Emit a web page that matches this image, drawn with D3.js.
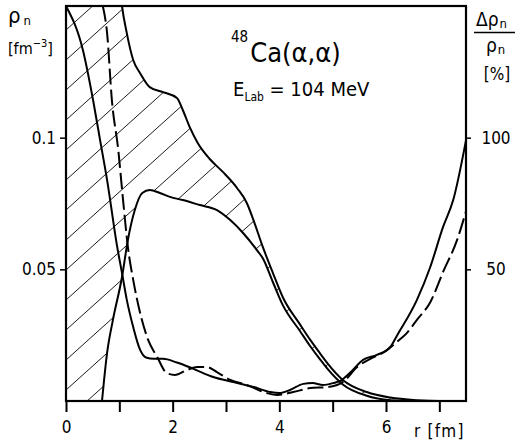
<!DOCTYPE html>
<html><head><meta charset="utf-8">
<script src="https://cdn.jsdelivr.net/npm/d3@7"></script>
<style>
html,body{margin:0;padding:0;background:#fff;}
svg text{font-family:"DejaVu Sans Condensed","DejaVu Sans",sans-serif;fill:#000;}
</style></head>
<body>
<svg id="c" width="519" height="441"></svg>
<script>
// ---- data (r in fm) ----
const xTicks = [0,1,2,3,4,5,6,7];
const xTickLabels = ["0","","2","","4","","6",""];
const yLeftTicks = [0.05, 0.1];
const yLeftLabels = ["0.05","0.1"];
const yRightTicks = [50, 100];
const yRightLabels = ["50","100"];

// upper bound of neutron density (fm^-3)
const upperR = [0.90,0.97,1.05,1.14,1.26,1.39,1.57,1.82,2.08,2.19,2.32,2.47,2.70,2.94,3.21,3.39,3.51,3.69,3.88,4.07,4.39,4.58,4.76,4.90,5.19,5.64,6.08,6.58,7.0,7.5];
const upperV = [0.19,0.166,0.150,0.1397,0.1295,0.1245,0.1192,0.1173,0.1151,0.1105,0.1040,0.0980,0.0918,0.0870,0.0808,0.0752,0.0690,0.0585,0.0486,0.0392,0.0290,0.0232,0.0182,0.0144,0.0080,0.0034,0.0013,0.0003,0.0,0.0];
// lower bound of neutron density
const lowerR = [0.675,0.77,0.88,1.05,1.16,1.29,1.43,1.57,1.76,1.95,2.19,2.51,2.83,3.08,3.32,3.58,3.69,3.88,4.07,4.39,4.58,4.76,4.90,5.19,5.64,6.08,6.4,7.5];
const lowerV = [0.0,0.0182,0.0308,0.0471,0.0611,0.0725,0.0790,0.0801,0.0790,0.0775,0.0763,0.0744,0.0725,0.0687,0.0638,0.0573,0.0542,0.0451,0.0362,0.0265,0.0208,0.0159,0.0123,0.0063,0.0020,0.0003,0.0,0.0];
// relative error (%), solid
const errSolidR = [0.0,0.32,0.51,0.64,0.77,0.96,1.05,1.14,1.26,1.39,1.50,1.65,1.82,2.08,2.38,2.76,3.14,3.52,3.83,4.0,4.2,4.45,4.62,4.82,5.01,5.14,5.33,5.57,5.83,6.08,6.21,6.58,6.83,7.07,7.26,7.5];
const errSolidV = [150,133,114,99,84,58.5,48.6,38.4,28.1,19.4,16.5,16.0,16.0,14.6,12.3,9.1,7.2,5.3,3.4,3.0,4.2,6.5,6.8,6.1,6.8,7.6,10.8,15.6,17.5,20.5,25,38.4,50.9,66.1,76.3,99];
// relative error (%), dashed
const errDashR = [0.69,0.77,0.86,0.98,1.07,1.16,1.26,1.39,1.54,1.71,1.89,2.04,2.27,2.46,2.64,2.83,3.08,3.39,3.77,3.96,4.26,4.58,4.9,5.19,5.46,5.72,5.97,6.21,6.39,6.58,6.83,7.07,7.33,7.5];
const errDashV = [150,139.8,114.3,95.3,76.3,58.5,46.0,33.4,23.2,16.7,10.6,9.9,11.8,12.9,12.9,11.0,8.0,6.1,3.0,2.3,3.4,4.9,5.3,7.2,12.9,16.2,18.6,22.5,25.8,30.8,37.5,49,61,72];

// ---- layout ----
const L=66, R=466, T=6, B=401;
const svg = d3.select("#c");
const x = d3.scaleLinear().domain([0,7.5]).range([L,R]);
const yL = d3.scaleLinear().domain([0,0.15]).range([B,T]);
const yR = d3.scaleLinear().domain([0,150]).range([B,T]);

const defs = svg.append("defs");
defs.append("clipPath").attr("id","plotclip").append("rect")
  .attr("x",L).attr("y",T).attr("width",R-L).attr("height",B-T);

const upper = upperR.map((r,i)=>[r,upperV[i]]);
const lower = lowerR.map((r,i)=>[r,lowerV[i]]);
const esol = errSolidR.map((r,i)=>[r,errSolidV[i]]);
const edash = errDashR.map((r,i)=>[r,errDashV[i]]);

const curve = d3.curveMonotoneX;
const lineL = d3.line().x(d=>x(d[0])).y(d=>yL(d[1])).curve(curve);
const lineR = d3.line().x(d=>x(d[0])).y(d=>yR(d[1])).curve(curve);
const areaL = d3.area().x(d=>x(d[0])).y0(B).y1(d=>yL(d[1])).curve(curve);

// region under the upper bound (extended above the frame on the left)
const underUpper = [[0,0.4]].concat(upper);
defs.append("clipPath").attr("id","bandclip").append("path").attr("d",areaL(underUpper));

const plot = svg.append("g").attr("clip-path","url(#plotclip)");
// hatch
const hatch = plot.append("g").attr("clip-path","url(#bandclip)");
const slope = 0.9, spacing = 30;
const ks = d3.range(0, Math.ceil((B + slope*(R-L))/spacing)+2);
hatch.selectAll("line").data(ks).join("line")
  .attr("x1",L).attr("y1",k=>k*spacing)
  .attr("x2",R).attr("y2",k=>k*spacing - slope*(R-L))
  .attr("stroke","#000").attr("stroke-width",0.9);
// blank out region under lower bound
plot.append("path").attr("d",areaL(lower)).attr("fill","#fff");

// curves
plot.append("path").attr("d",lineL(upper)).attr("fill","none").attr("stroke","#000").attr("stroke-width",2);
plot.append("path").attr("d",lineL(lower)).attr("fill","none").attr("stroke","#000").attr("stroke-width",2);
plot.append("path").attr("d",lineR(esol)).attr("fill","none").attr("stroke","#000").attr("stroke-width",2);
plot.append("path").attr("d",lineR(edash)).attr("fill","none").attr("stroke","#000").attr("stroke-width",2)
  .attr("stroke-dasharray","16,5");

// frame
svg.append("rect").attr("x",L).attr("y",T).attr("width",R-L).attr("height",B-T)
  .attr("fill","none").attr("stroke","#000").attr("stroke-width",2.2);

// axes
const xAxis = d3.axisBottom(x).tickValues(xTicks).tickSize(11).tickFormat((d,i)=>xTickLabels[i]);
const gx = svg.append("g").attr("transform",`translate(0,${B})`).call(xAxis);
gx.select(".domain").remove();
gx.selectAll(".tick line").attr("stroke-width",2);
gx.selectAll(".tick text").attr("font-size",17).attr("dy","1.05em");

const yAxisL = d3.axisLeft(yL).tickValues(yLeftTicks).tickSize(6).tickFormat((d,i)=>yLeftLabels[i]);
const gl = svg.append("g").attr("transform",`translate(${L},0)`).call(yAxisL);
gl.select(".domain").remove();
gl.selectAll(".tick line").attr("stroke-width",1.5);
gl.selectAll(".tick text").attr("font-size",17).attr("x",-10);

const yAxisR = d3.axisRight(yR).tickValues(yRightTicks).tickSize(5).tickFormat((d,i)=>yRightLabels[i]);
const gr = svg.append("g").attr("transform",`translate(${R},0)`).call(yAxisR);
gr.select(".domain").remove();
gr.selectAll(".tick line").attr("stroke-width",1.5);
gr.selectAll(".tick text").attr("font-size",17).attr("x",30).attr("text-anchor","middle");

// axis titles
svg.append("text").attr("x",414).attr("y",437).attr("font-size",17).attr("letter-spacing",1.2).text("r [fm]");

const lt = svg.append("text").attr("x",8).attr("y",23).attr("font-size",22);
lt.append("tspan").text("ρ");
lt.append("tspan").attr("font-size",13).attr("dx",3).attr("dy",2).text("n");
const lu = svg.append("text").attr("x",8).attr("y",54).attr("font-size",16);
lu.append("tspan").text("[fm");
lu.append("tspan").attr("font-size",11).attr("dy",-7).text("−3");
lu.append("tspan").attr("dy",7).text("]");

const rt = svg.append("text").attr("x",476).attr("y",26).attr("font-size",19);
rt.append("tspan").text("Δρ");
rt.append("tspan").attr("font-size",13).attr("dx",1).attr("dy",2).text("n");
svg.append("line").attr("x1",474).attr("x2",515).attr("y1",32.5).attr("y2",32.5).attr("stroke","#000").attr("stroke-width",1.5);
const rb = svg.append("text").attr("x",486).attr("y",52).attr("font-size",19);
rb.append("tspan").text("ρ");
rb.append("tspan").attr("font-size",13).attr("dx",1).attr("dy",2).text("n");
svg.append("text").attr("x",497).attr("y",80).attr("font-size",17).attr("text-anchor","middle").text("[%]");

// title
const t1 = svg.append("text").attr("x",231).attr("y",62).attr("font-size",27);
t1.append("tspan").attr("font-size",15).attr("dy",-20).text("48");
t1.append("tspan").attr("dy",20).attr("dx",2).text("Ca(α,α)");
const t2 = svg.append("text").attr("x",233).attr("y",96).attr("font-size",20);
t2.append("tspan").text("E");
t2.append("tspan").attr("font-size",12).attr("dy",5).text("Lab");
t2.append("tspan").attr("dy",-5).text(" = 104 MeV");
</script>
</body></html>
